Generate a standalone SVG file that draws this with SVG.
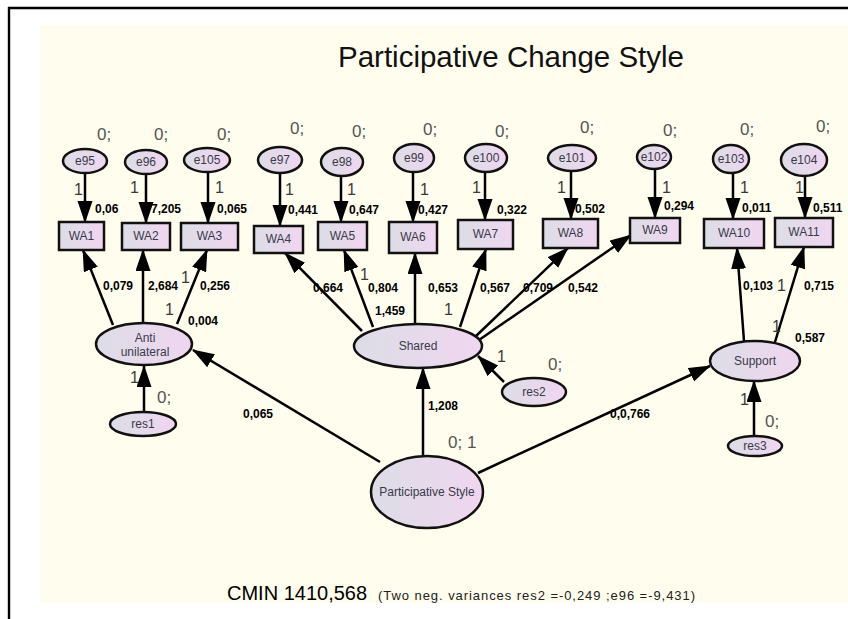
<svg xmlns="http://www.w3.org/2000/svg" width="848" height="619" viewBox="0 0 848 619">
  <defs>
    <linearGradient id="fillNode" x1="0" y1="0" x2="1" y2="0">
      <stop offset="0" stop-color="#dcdde6"/>
      <stop offset="1" stop-color="#f0d6f0"/>
    </linearGradient>
    <marker id="head" markerUnits="userSpaceOnUse" markerWidth="22" markerHeight="16" refX="21" refY="7.5" orient="auto">
      <path d="M0,0 L22,7.5 L0,15 z" fill="#000"/>
    </marker>
    <style>
      .ell { fill: url(#fillNode); stroke: #111; stroke-width: 2.5; }
      .box { fill: url(#fillNode); stroke: #111; stroke-width: 2.5; }
      .lbl { font-family: "Liberation Sans", Arial, sans-serif; font-size: 12px; fill: #3a3a4a; text-anchor: middle; }
      .val { font-family: "Liberation Sans", Arial, sans-serif; font-size: 12px; font-weight: bold; fill: #000; }
      .one { font-family: "Liberation Sans", Arial, sans-serif; font-size: 16px; fill: #3a3a3a; }
      .var { font-family: "Liberation Sans", Arial, sans-serif; font-size: 17px; fill: #555; }
      .con line { stroke: #000; stroke-width: 2.5; marker-end: url(#head); }
    </style>
  </defs>

  <!-- page and frame -->
  <rect x="0" y="0" width="848" height="619" fill="#ffffff"/>
  <rect x="40" y="25" width="808" height="578" fill="#fefdee"/>
  <line x1="8" y1="8" x2="848" y2="8" stroke="#000" stroke-width="2.4"/>
  <line x1="9" y1="7" x2="9" y2="619" stroke="#000" stroke-width="2.4"/>

  <text x="338" y="67" font-family="'Liberation Sans', Arial, sans-serif" font-size="29.5" fill="#111">Participative Change Style</text>

  <!-- connectors -->
  <g id="connectors" class="con">
    <line x1="85" y1="173" x2="85" y2="222"/>
    <line x1="146" y1="174" x2="146" y2="223"/>
    <line x1="208" y1="172" x2="208" y2="223"/>
    <line x1="280" y1="173" x2="280" y2="226"/>
    <line x1="341" y1="176" x2="341" y2="222"/>
    <line x1="413" y1="172" x2="413" y2="222"/>
    <line x1="485" y1="172" x2="485" y2="220"/>
    <line x1="571" y1="171" x2="571" y2="219"/>
    <line x1="655" y1="169" x2="655" y2="218"/>
    <line x1="733" y1="173" x2="733" y2="219"/>
    <line x1="805" y1="176" x2="805" y2="218"/>

    <line x1="113" y1="325" x2="83" y2="250"/>
    <line x1="143" y1="323" x2="143" y2="250"/>
    <line x1="177" y1="324" x2="207" y2="250"/>

    <line x1="362" y1="331" x2="285" y2="253"/>
    <line x1="373" y1="327" x2="344" y2="250"/>
    <line x1="415" y1="324" x2="415" y2="253"/>
    <line x1="460" y1="327" x2="486" y2="249"/>
    <line x1="476" y1="336" x2="568" y2="248"/>
    <line x1="479" y1="340" x2="631" y2="235"/>

    <line x1="744" y1="341" x2="737" y2="248"/>
    <line x1="775" y1="342" x2="804" y2="247"/>

    <line x1="380" y1="462" x2="193" y2="350"/>
    <line x1="423" y1="455" x2="423" y2="368"/>
    <line x1="478" y1="473" x2="710" y2="366"/>

    <line x1="144" y1="412" x2="144" y2="366"/>
    <line x1="504" y1="382" x2="478" y2="356"/>
    <line x1="754" y1="436" x2="754" y2="381"/>
  </g>

  <!-- error terms -->
  <g id="e95"><ellipse class="ell" cx="85" cy="161" rx="22" ry="12"/><text class="lbl" x="85" y="165">e95</text></g>
  <g id="e96"><ellipse class="ell" cx="146" cy="162" rx="21" ry="12"/><text class="lbl" x="146" y="166">e96</text></g>
  <g id="e105"><ellipse class="ell" cx="207" cy="160" rx="23" ry="12"/><text class="lbl" x="207" y="164">e105</text></g>
  <g id="e97"><ellipse class="ell" cx="280" cy="160" rx="22" ry="13"/><text class="lbl" x="280" y="164">e97</text></g>
  <g id="e98"><ellipse class="ell" cx="342" cy="162" rx="21" ry="14"/><text class="lbl" x="342" y="166">e98</text></g>
  <g id="e99"><ellipse class="ell" cx="414" cy="158" rx="20" ry="14"/><text class="lbl" x="414" y="162">e99</text></g>
  <g id="e100"><ellipse class="ell" cx="486" cy="158" rx="21" ry="14"/><text class="lbl" x="486" y="162">e100</text></g>
  <g id="e101"><ellipse class="ell" cx="572" cy="158" rx="24" ry="13"/><text class="lbl" x="572" y="162">e101</text></g>
  <g id="e102"><ellipse class="ell" cx="654" cy="157" rx="17" ry="12"/><text class="lbl" x="654" y="161">e102</text></g>
  <g id="e103"><ellipse class="ell" cx="731" cy="159" rx="18" ry="14"/><text class="lbl" x="731" y="163">e103</text></g>
  <g id="e104"><ellipse class="ell" cx="804" cy="160" rx="23" ry="16"/><text class="lbl" x="804" y="164">e104</text></g>

  <!-- observed items -->
  <g id="WA1"><rect class="box" x="59" y="222" width="45" height="28"/><text class="lbl" x="81.5" y="240">WA1</text></g>
  <g id="WA2"><rect class="box" x="122" y="223" width="48" height="27"/><text class="lbl" x="146" y="240">WA2</text></g>
  <g id="WA3"><rect class="box" x="181" y="223" width="57" height="27"/><text class="lbl" x="209.5" y="240">WA3</text></g>
  <g id="WA4"><rect class="box" x="254" y="226" width="49" height="27"/><text class="lbl" x="278.5" y="243">WA4</text></g>
  <g id="WA5"><rect class="box" x="318" y="222" width="49" height="28"/><text class="lbl" x="342.5" y="240">WA5</text></g>
  <g id="WA6"><rect class="box" x="389" y="222" width="48" height="31"/><text class="lbl" x="413" y="241">WA6</text></g>
  <g id="WA7"><rect class="box" x="458" y="220" width="55" height="29"/><text class="lbl" x="485.5" y="238">WA7</text></g>
  <g id="WA8"><rect class="box" x="543" y="219" width="55" height="29"/><text class="lbl" x="570.5" y="237">WA8</text></g>
  <g id="WA9"><rect class="box" x="630" y="218" width="50" height="25"/><text class="lbl" x="655" y="234">WA9</text></g>
  <g id="WA10"><rect class="box" x="704" y="219" width="60" height="29"/><text class="lbl" x="734" y="237">WA10</text></g>
  <g id="WA11"><rect class="box" x="775" y="218" width="58" height="29"/><text class="lbl" x="804" y="236">WA11</text></g>

  <!-- latent factors -->
  <g id="anti">
    <ellipse class="ell" cx="144" cy="344" rx="48" ry="21"/>
    <text class="lbl" x="145" y="342">Anti</text>
    <text class="lbl" x="145" y="356">unilateral</text>
  </g>
  <g id="shared"><ellipse class="ell" cx="418" cy="346" rx="64" ry="22"/><text class="lbl" x="418" y="350">Shared</text></g>
  <g id="support"><ellipse class="ell" cx="755" cy="361" rx="45" ry="20"/><text class="lbl" x="755" y="365">Support</text></g>
  <g id="participative"><ellipse class="ell" cx="427" cy="492" rx="56" ry="36"/><text class="lbl" x="427" y="496">Participative Style</text></g>

  <!-- residuals -->
  <g id="res1"><ellipse class="ell" cx="143" cy="424" rx="33" ry="12"/><text class="lbl" x="143" y="428">res1</text></g>
  <g id="res2"><ellipse class="ell" cx="534" cy="392" rx="32" ry="14"/><text class="lbl" x="534" y="396">res2</text></g>
  <g id="res3"><ellipse class="ell" cx="755" cy="446" rx="27" ry="10"/><text class="lbl" x="755" y="450">res3</text></g>

  <!-- variance / mean labels -->
  <g id="variances" class="var">
    <text x="97" y="140">0;</text>
    <text x="154" y="140">0;</text>
    <text x="217" y="140">0;</text>
    <text x="290" y="134">0;</text>
    <text x="352" y="137">0;</text>
    <text x="423" y="135">0;</text>
    <text x="495" y="137">0;</text>
    <text x="580" y="133">0;</text>
    <text x="663" y="136">0;</text>
    <text x="740" y="135">0;</text>
    <text x="816" y="132">0;</text>
    <text x="157" y="403">0;</text>
    <text x="548" y="370">0;</text>
    <text x="765" y="427">0;</text>
    <text x="448" y="448">0; 1</text>
  </g>

  <!-- fixed path weights -->
  <g id="ones" class="one">
    <text x="74" y="195">1</text>
    <text x="130" y="193">1</text>
    <text x="215" y="193">1</text>
    <text x="285" y="195">1</text>
    <text x="347" y="195">1</text>
    <text x="420" y="195">1</text>
    <text x="472" y="193">1</text>
    <text x="557" y="193">1</text>
    <text x="662" y="193">1</text>
    <text x="740" y="193">1</text>
    <text x="795" y="193">1</text>
    <text x="181" y="283">1</text>
    <text x="165" y="315">1</text>
    <text x="360" y="280">1</text>
    <text x="444" y="315">1</text>
    <text x="777" y="291">1</text>
    <text x="772" y="332">1</text>
    <text x="130" y="383">1</text>
    <text x="497" y="362">1</text>
    <text x="740" y="405">1</text>
  </g>

  <!-- estimates -->
  <g id="estimates" class="val">
    <text x="95" y="213">0,06</text>
    <text x="151" y="213">7,205</text>
    <text x="217" y="213">0,065</text>
    <text x="288" y="214">0,441</text>
    <text x="349" y="214">0,647</text>
    <text x="418" y="214">0,427</text>
    <text x="497" y="214">0,322</text>
    <text x="575" y="213">0,502</text>
    <text x="664" y="210">0,294</text>
    <text x="742" y="212">0,011</text>
    <text x="813" y="212">0,511</text>

    <text x="103" y="290">0,079</text>
    <text x="148" y="290">2,684</text>
    <text x="200" y="290">0,256</text>
    <text x="188" y="325">0,004</text>

    <text x="313" y="292">0,664</text>
    <text x="368" y="292">0,804</text>
    <text x="428" y="292">0,653</text>
    <text x="480" y="292">0,567</text>
    <text x="523" y="292">0,709</text>
    <text x="568" y="292">0,542</text>
    <text x="375" y="315">1,459</text>

    <text x="743" y="290">0,103</text>
    <text x="804" y="290">0,715</text>
    <text x="795" y="342">0,587</text>

    <text x="243" y="418">0,065</text>
    <text x="428" y="410">1,208</text>
    <text x="610" y="418">0,0,766</text>
  </g>

  <!-- fit summary -->
  <text x="227" y="600" font-family="'Liberation Sans', Arial, sans-serif" font-size="20" fill="#000">CMIN 1410,568</text>
  <text x="378" y="600" font-family="'Liberation Sans', Arial, sans-serif" font-size="13" fill="#222" textLength="317">(Two neg. variances res2 =-0,249  ;e96 =-9,431)</text>
</svg>
